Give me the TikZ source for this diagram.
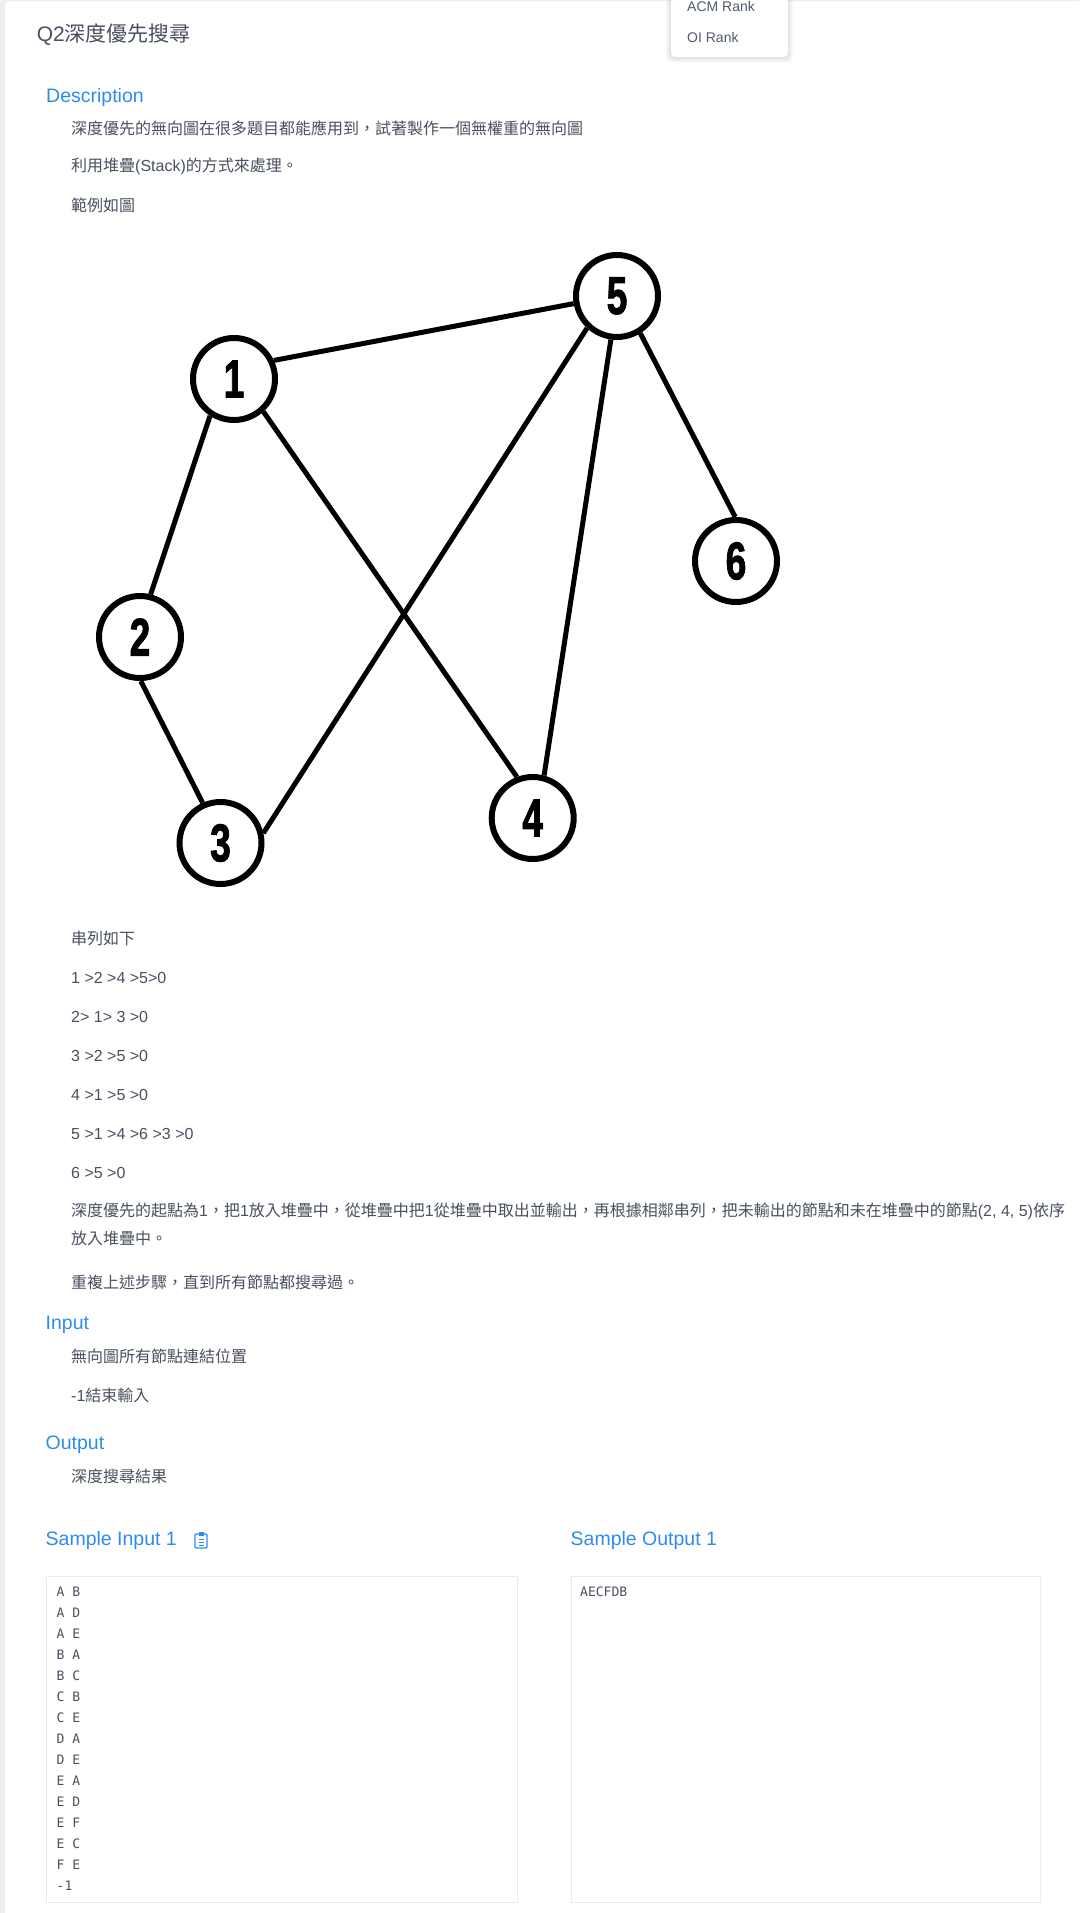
\documentclass[tikz,border=0pt]{standalone}
\usepackage{fontspec}
\usepackage{graphicx}
\setmainfont{Liberation Sans}
\newfontfamily\cjk{Noto Sans CJK TC}
\newfontfamily\monof{DejaVu Sans Mono}
\newfontfamily\digitfont[FakeBold=2]{Liberation Sans}
\definecolor{txt}{HTML}{495060}
\definecolor{blu}{HTML}{2D8CF0}
\definecolor{pagebg}{HTML}{EEEEEE}
\definecolor{bordc}{HTML}{E8EAEC}
\definecolor{menutxt}{HTML}{515A6E}
\tikzset{
  body/.style={anchor=west, inner sep=0pt, font=\fontsize{16}{16}\selectfont, text=txt},
  head/.style={anchor=west, inner sep=0pt, font=\fontsize{19.5}{20}\selectfont, text=blu},
  menu/.style={anchor=west, inner sep=0pt, font=\fontsize{14}{14}\selectfont, text=menutxt},
  mono/.style={anchor=west, inner sep=0pt, font=\monof\fontsize{13}{13}\selectfont, text=txt},
  vert/.style={circle, draw=black, line width=6pt, minimum size=82pt, inner sep=0pt},
  link/.style={draw=black, line width=5pt},
  codebox/.style={draw=bordc, line width=1pt, fill=white},
}
\newcommand{\vlab}[1]{\scalebox{0.7}[1]{\digitfont\bfseries\fontsize{53}{53}\selectfont #1}}
\begin{document}
\begin{tikzpicture}[x=1pt,y=-1pt]
\useasboundingbox (0,0) rectangle (1079,1913);
\fill[pagebg] (0,0) rectangle (1079,1913);
\fill[white, rounded corners=4pt] (5,1.5) rectangle (1090,1925);

% dropdown menu with soft shadow
\foreach \s in {1,...,6}{
  \fill[black, opacity=0.018, rounded corners=5pt] (671-\s*0.8,-8) rectangle (788+\s*0.8,57+\s*1.0);
}
\fill[white, rounded corners=4pt] (671,-8) rectangle (788,57);
\node[menu] (acm) at (687,6) {ACM Rank};
\node[menu] (oi) at (687,37) {OI Rank};

% title
\node[anchor=west, inner sep=0pt, font=\fontsize{21}{21}\selectfont, text=txt] (title) at (36.6,35) {Q2{\cjk 深度優先搜尋}};

% description
\node[head] (hdesc) at (46,97) {Description};
\node[body] (d1) at (71,128) {\cjk 深度優先的無向圖在很多題目都能應用到，試著製作一個無權重的無向圖};
\node[body] (d2) at (71,166) {{\cjk 利用堆疊}(Stack){\cjk 的方式來處理。}};
\node[body] (d3) at (71,205) {\cjk 範例如圖};

% graph
\node[vert] (v1) at (234,379) {\vlab{1}};
\node[vert] (v5) at (617,296) {\vlab{5}};
\node[vert] (v2) at (140,637) {\vlab{2}};
\node[vert] (v3) at (220.5,843) {\vlab{3}};
\node[vert] (v4) at (532.7,818) {\vlab{4}};
\node[vert] (v6) at (736,561) {\vlab{6}};
\draw[link] (v1.25.6) -- (v5.190.5);
\draw[link] (v1.237.6) -- (v2.76.6);
\draw[link] (v1.312.2) -- (v4.111.7);
\draw[link] (v5.227.5) -- (v3.13);
\draw[link] (v5.262.5) -- (v4.75.6);
\draw[link] (v5.302.5) -- (v6.91);
\draw[link] (v2.271.5) -- (v3.114);

% adjacency lists
\node[body] (l0) at (71,938.5) {\cjk 串列如下};
\node[body] (l1) at (71,977.5) {1 >2 >4 >5>0};
\node[body] (l2) at (71,1016.7) {2> 1> 3 >0};
\node[body] (l3) at (71,1055.8) {3 >2 >5 >0};
\node[body] (l4) at (71,1095) {4 >1 >5 >0};
\node[body] (l5) at (71,1134) {5 >1 >4 >6 >3 >0};
\node[body] (l6) at (71,1173) {6 >5 >0};
\node[body] (p1) at (71,1211) {{\cjk 深度優先的起點為}1{\cjk ，把}1{\cjk 放入堆疊中，從堆疊中把}1{\cjk 從堆疊中取出並輸出，再根據相鄰串列，把未輸出的節點和未在堆疊中的節點}(2, 4, 5){\cjk 依序}};
\node[body] (p2) at (71,1238.5) {\cjk 放入堆疊中。};
\node[body] (p3) at (71,1282.5) {\cjk 重複上述步驟，直到所有節點都搜尋過。};

% input / output
\node[head] (hin) at (45.5,1324.5) {Input};
\node[body] (i1) at (71,1356) {\cjk 無向圖所有節點連結位置};
\node[body] (i2) at (71,1395) {-1{\cjk 結束輸入}};
\node[head] (hout) at (45.5,1445) {Output};
\node[body] (o1) at (71,1476) {\cjk 深度搜尋結果};

% samples
\node[head] (hsin) at (45.5,1540) {Sample Input 1};
\node[head] (hsout) at (570.5,1540) {Sample Output 1};
% clipboard icon
\draw[blu, line width=1.2pt, rounded corners=1pt] (195,1534) rectangle (207,1548);
\fill[blu] (198.5,1531.5) rectangle (203.5,1535.5);
\draw[blu, line width=1pt] (198.5,1539.5) -- (203.5,1539.5) (198.5,1542.5) -- (203.5,1542.5) (198.5,1545.5) -- (203.5,1545.5);

\node[codebox, anchor=north west, minimum width=471pt, minimum height=326pt, inner sep=0pt] (inbox) at (45.5,1576) {};
\node[codebox, anchor=north west, minimum width=469.5pt, minimum height=326pt, inner sep=0pt] (outbox) at (570.5,1576) {};
\foreach \t [count=\i from 0] in {A B,A D,A E,B A,B C,C B,C E,D A,D E,E A,E D,E F,E C,F E,-1}{
  \node[mono] (in\i) at (56.5,1591.7+21*\i) {\t};
}
\node[mono] (outtxt) at (580,1591.7) {AECFDB};
\end{tikzpicture}
\end{document}
